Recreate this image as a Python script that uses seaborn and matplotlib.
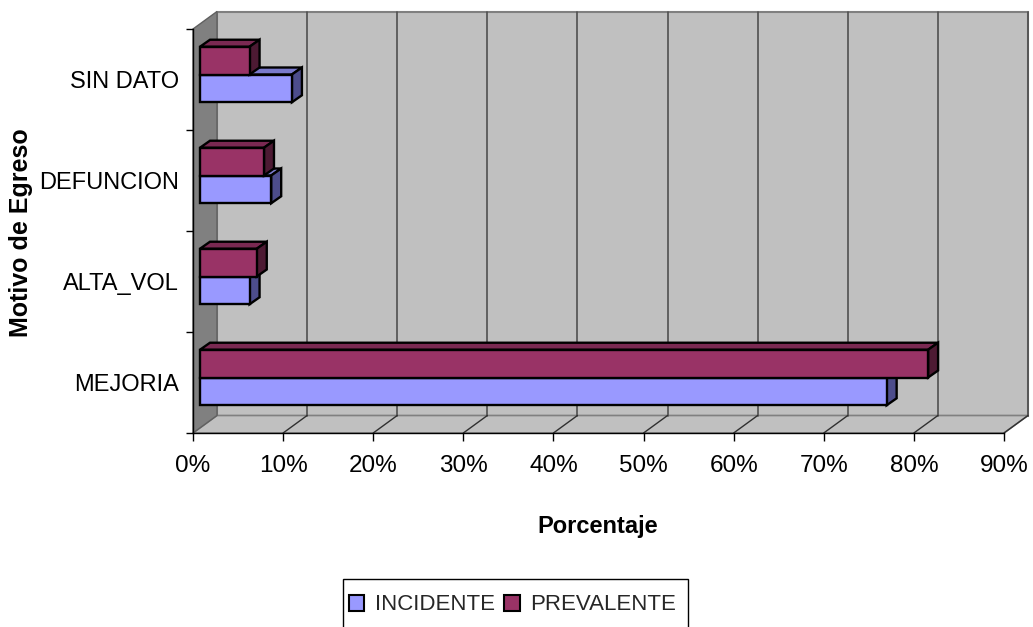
import numpy as np
import pandas as pd
import matplotlib
matplotlib.use("Agg")
import matplotlib.pyplot as plt
import seaborn as sns
from matplotlib.patches import Polygon, Patch, Rectangle
from matplotlib.lines import Line2D
from matplotlib import transforms
from matplotlib.colors import to_rgba

# Data (percent of discharges by reason)
motivos = ["SIN DATO", "DEFUNCION", "ALTA_VOL", "MEJORIA"]
incidente = [10.2, 7.9, 5.5, 76.2]
prevalente = [5.5, 7.1, 6.3, 80.8]
series = ["INCIDENTE", "PREVALENTE"]
ticks_pct = [0, 10, 20, 30, 40, 50, 60, 70, 80, 90]

df = pd.DataFrame({
    "motivo": motivos * 2,
    "serie": ["INCIDENTE"] * len(motivos) + ["PREVALENTE"] * len(motivos),
    "valor": np.array(incidente + prevalente) / 100.0,
})

sns.set_theme(style="white")
plt.rcParams["font.family"] = ["Liberation Sans", "DejaVu Sans"]

W, H = 1033, 627
fig = plt.figure(figsize=(W / 100, H / 100), dpi=100)
fig.patch.set_facecolor("white")

# front plane of the 3-D box, in pixels from the top-left corner
X0, X1, YT, YB = 193, 1004, 29, 433
ax = fig.add_axes([X0 / W, (H - YB) / H, (X1 - X0) / W, (YB - YT) / H])
ax.patch.set_visible(False)

face = {"INCIDENTE": "#9999FF", "PREVALENTE": "#993366"}
top = {"INCIDENTE": "#7A7ACC", "PREVALENTE": "#7A2952"}
side = {"INCIDENTE": "#4D4D8C", "PREVALENTE": "#4D1A33"}

sns.barplot(data=df, y="motivo", x="valor", hue="serie", order=motivos,
            hue_order=["PREVALENTE", "INCIDENTE"], palette=face, width=0.55,
            orient="h", edgecolor="black", linewidth=1.7, saturation=1,
            errorbar=None, legend=False, ax=ax)

ax.set_xlim(0, 0.9)
ax.set_ylim(3.5, -0.5)

ident = transforms.IdentityTransform()


def P(x, y):
    """pixel position (from top-left) -> display coords"""
    return (x, H - y)


# wall depth and bar depth in pixels
WDX, WDY = 24, 17.5
BDX, BDY = 10, 7
SHX, SHY = 7, 5

wall_kw = dict(transform=ident, clip_on=False)
# back wall
ax.add_patch(Polygon([P(X0 + WDX, YT - WDY), P(X1 + WDX, YT - WDY),
                      P(X1 + WDX, YB - WDY), P(X0 + WDX, YB - WDY)],
                     closed=True, fc="#C0C0C0", ec="#808080", lw=1.5,
                     zorder=0.2, **wall_kw))
# floor
ax.add_patch(Polygon([P(X0, YB), P(X1, YB), P(X1 + WDX, YB - WDY),
                      P(X0 + WDX, YB - WDY)],
                     closed=True, fc="#C0C0C0", ec="#808080", lw=1.2,
                     zorder=0.3, **wall_kw))
# left wall
ax.add_patch(Polygon([P(X0, YT), P(X0 + WDX, YT - WDY), P(X0 + WDX, YB - WDY),
                      P(X0, YB)],
                     closed=True, fc="#808080", ec="#606060", lw=1.0,
                     zorder=0.4, **wall_kw))

# gridlines on the back wall and matching guides across the floor
for t in ticks_pct[1:]:
    xd = ax.transData.transform((t / 100.0, 0))[0]
    ax.add_line(Line2D([xd + WDX, xd + WDX], [H - (YT - WDY), H - (YB - WDY)],
                       color="#505050", lw=1.2, zorder=0.5, **wall_kw))
    ax.add_line(Line2D([xd, xd + WDX], [H - YB, H - (YB - WDY)],
                       color="#303030", lw=1.0, zorder=0.5, **wall_kw))

# give every bar a top and a side face
front_tr = transforms.offset_copy(ax.transData, fig=fig, x=SHX, y=SHY, units="dots")
for p in list(ax.patches):
    if not isinstance(p, matplotlib.patches.Rectangle) or p.get_width() == 0:
        continue
    fc = p.get_facecolor()
    serie = "INCIDENTE" if np.allclose(fc, to_rgba(face["INCIDENTE"])) else "PREVALENTE"
    z = 3 if serie == "INCIDENTE" else 4
    x0, y0, w, h = p.get_x(), p.get_y(), p.get_width(), p.get_height()
    (ax_, ay_), (bx_, by_) = ax.transData.transform([(x0, y0), (x0 + w, y0 + h)])
    L, R = min(ax_, bx_) + SHX, max(ax_, bx_) + SHX
    B, T = min(ay_, by_) + SHY, max(ay_, by_) + SHY
    p.set_transform(front_tr)
    p.set_zorder(z + 0.2)
    p.set_clip_on(False)
    ax.add_patch(Polygon([(L, T), (R, T), (R + BDX, T + BDY), (L + BDX, T + BDY)],
                         closed=True, fc=top[serie], ec="black", lw=1.7,
                         zorder=z, transform=ident, clip_on=False))
    ax.add_patch(Polygon([(R, B), (R, T), (R + BDX, T + BDY), (R + BDX, B + BDY)],
                         closed=True, fc=side[serie], ec="black", lw=1.7,
                         zorder=z + 0.1, transform=ident, clip_on=False))

# axes, ticks and labels
for s in ["top", "right"]:
    ax.spines[s].set_visible(False)
for s in ["left", "bottom"]:
    ax.spines[s].set_color("black")
    ax.spines[s].set_linewidth(1.0)
    ax.spines[s].set_zorder(1)

ax.set_xticks([t / 100.0 for t in ticks_pct])
ax.set_xticklabels([f"{t}%" for t in ticks_pct])
ax.tick_params(axis="x", bottom=True, length=6, width=1, color="black",
               pad=10, labelsize=17.5, labelcolor="black")

ax.set_yticks(range(len(motivos)))
ax.set_yticklabels(motivos)
ax.set_yticks([i - 0.5 for i in range(len(motivos) + 1)], minor=True)
ax.tick_params(axis="y", which="major", left=False, length=0, pad=10,
               labelsize=17, labelcolor="black")
ax.tick_params(axis="y", which="minor", left=True, length=5, width=1,
               color="black")
ax.set_xlabel("")
ax.set_ylabel("")

fig.text(598 / W, 1 - 527 / H, "Porcentaje", ha="center", va="center",
         fontsize=17, fontweight="bold", color="black")
fig.text(21 / W, 1 - 233 / H, "Motivo de Egreso", ha="center", va="center",
         rotation=90, fontsize=18, fontweight="bold", color="black")

# legend: entries plus a plain box running off the bottom edge
handles = [Patch(facecolor=face[s], edgecolor="black", linewidth=1.5, label=s)
           for s in series]
leg = fig.legend(handles=handles, loc="center",
                 bbox_to_anchor=(512.5 / W, 1 - 605 / H), ncol=2, fontsize=16,
                 frameon=False, handlelength=0.7, handleheight=0.7,
                 handletextpad=0.47, columnspacing=0.42, borderpad=0,
                 borderaxespad=0)
fig.add_artist(Rectangle((343 / W, -10 / H), (688 - 343) / W, (627 - 579 + 10) / H,
                         transform=fig.transFigure, fill=False, ec="black",
                         lw=1.0, clip_on=False))

fig.savefig("out.png", dpi=100, facecolor="white")
